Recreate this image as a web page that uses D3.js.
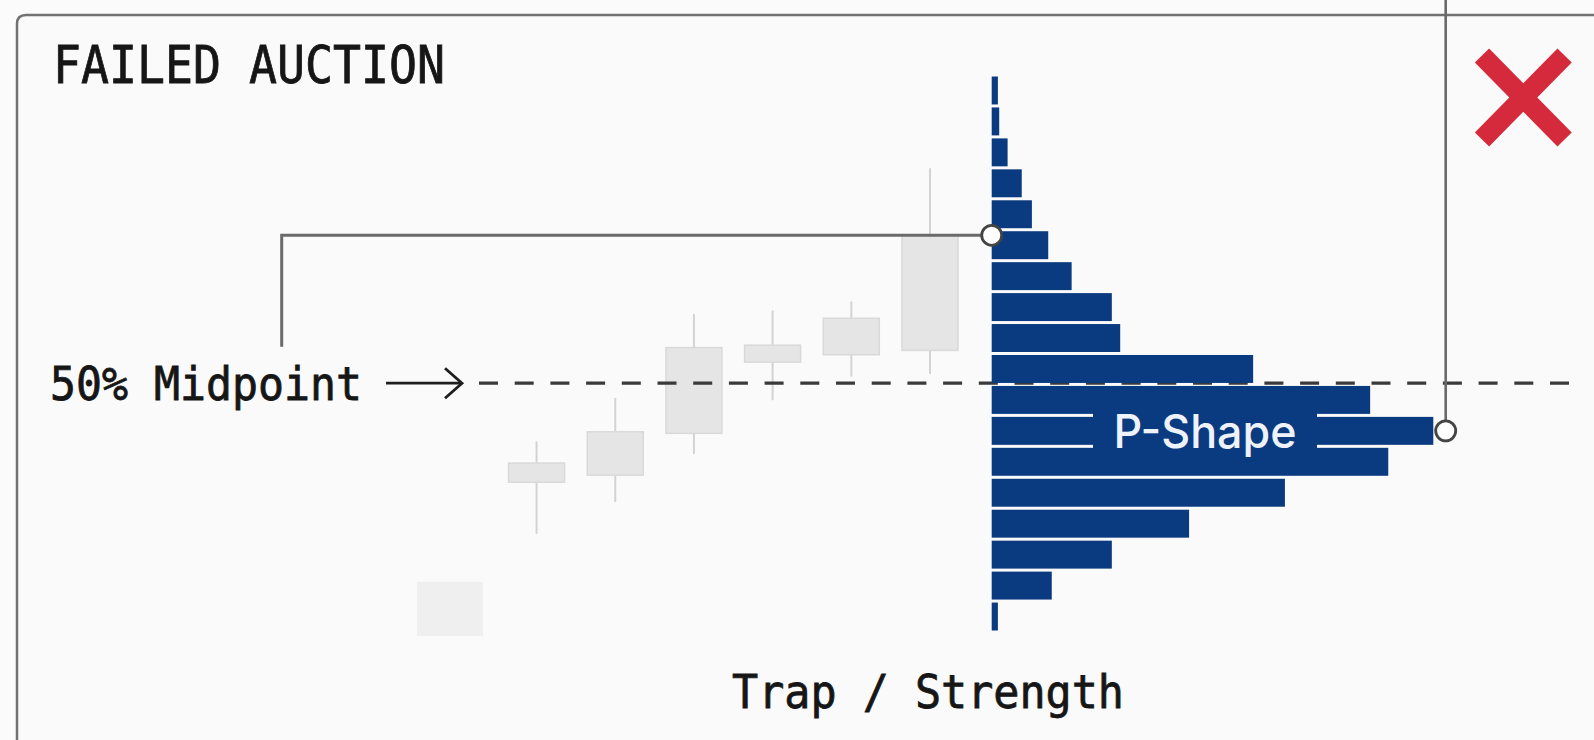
<!DOCTYPE html>
<html>
<head>
<meta charset="utf-8">
<script src="https://cdn.jsdelivr.net/npm/d3@7/dist/d3.min.js"></script>
<style>
  html, body { margin: 0; padding: 0; background: #fbfbfb; }
  svg { display: block; }
</style>
</head>
<body>
<svg id="chart" width="1594" height="740"></svg>
<script>
// ---------- data ----------
const title = "FAILED AUCTION";
const midLabel = "50% Midpoint";
const bottomLabel = "Trap / Strength";
const shapeLabel = "P-Shape";

// volume profile: price levels (top to bottom) and volume at each level
const priceLevels = [117, 116, 115, 114, 113, 112, 111, 110, 109, 108, 107, 106, 105, 104, 103, 102, 101, 100];
const levelVolume = [14, 17, 36, 68, 91, 128, 181, 272, 291, 592, 857, 1000, 898, 664, 447, 272, 136, 14];

// candles (time, open, close, high, low)
const candleTime  = [0, 1.1, 2.1, 3.1, 4.1, 5.1, 6.1];
const candleOpen  = [101.62, 104.84, 105.07, 106.42, 108.72, 108.96, 109.10];
const candleClose = [99.87, 105.46, 106.47, 109.19, 109.27, 110.14, 112.82];
const candleHigh  = [101.62, 106.16, 107.56, 110.28, 110.39, 110.68, 114.99];
const candleLow   = [99.87, 103.17, 104.20, 105.75, 107.49, 108.25, 108.34];

const midpointPrice = 108.04;

// ---------- scales ----------
const svg = d3.select("#chart");
const yPrice = d3.scaleLinear().domain([100, 118]).range([632, 75]);
const xVol = d3.scaleLinear().domain([0, 1000]).range([991.7, 1433.3]);
const xTime = d3.scaleLinear().domain([0, 6.1]).range([450, 930]);

const navy = "#0a3a80";
const mono = "'DejaVu Sans Mono', 'Liberation Mono', monospace";
const ink = "#161616";

// panel
svg.append("rect").attr("x", 0).attr("y", 0).attr("width", 1594).attr("height", 740).attr("fill", "#fbfbfb");
svg.append("path")
  .attr("d", "M17,760 V24 Q17,15 26,15 H1600 V760 Z")
  .attr("fill", "#fafafa")
  .attr("stroke", "#727272")
  .attr("stroke-width", 2.5);

// candles
const candles = candleTime.map((t, i) => ({
  t, o: candleOpen[i], c: candleClose[i], h: candleHigh[i], l: candleLow[i], first: i === 0
}));
const cg = svg.append("g");
cg.selectAll("line.wick").data(candles.filter(d => !d.first)).join("line")
  .attr("x1", d => xTime(d.t)).attr("x2", d => xTime(d.t))
  .attr("y1", d => yPrice(d.h)).attr("y2", d => yPrice(d.l))
  .attr("stroke", "#d3d3d3").attr("stroke-width", 2);
cg.selectAll("rect.body").data(candles).join("rect")
  .attr("x", d => xTime(d.t) - (d.first ? 33 : 28))
  .attr("width", d => d.first ? 66 : 56)
  .attr("y", d => yPrice(Math.max(d.o, d.c)))
  .attr("height", d => Math.abs(yPrice(d.o) - yPrice(d.c)))
  .attr("fill", d => d.first ? "#efefef" : "#e5e5e5")
  .attr("stroke", d => d.first ? "none" : "#d9d9d9")
  .attr("stroke-width", 1.5);

// connector from last candle close to label column
const lastC = candles[candles.length - 1];
const connY = yPrice(lastC.c);
svg.append("path")
  .attr("d", `M${xVol(0)},${connY} H281.7 V346.7`)
  .attr("fill", "none").attr("stroke", "#6a6a6a").attr("stroke-width", 3);

// dashed midpoint line
const midY = yPrice(midpointPrice);
svg.append("line")
  .attr("x1", 479).attr("x2", 1571).attr("y1", midY).attr("y2", midY)
  .attr("stroke", "#3a3a3a").attr("stroke-width", 3.2)
  .attr("stroke-dasharray", "19,16.7");

// arrow
svg.append("line").attr("x1", 386).attr("x2", 461).attr("y1", midY).attr("y2", midY)
  .attr("stroke", "#1e1e1e").attr("stroke-width", 2.8);
svg.append("path")
  .attr("d", `M445,${midY - 15} L462,${midY} L445,${midY + 15}`)
  .attr("fill", "none").attr("stroke", "#1e1e1e").attr("stroke-width", 2.8);

// volume profile bars
const profile = priceLevels.map((p, i) => ({ p, v: levelVolume[i] }));
svg.append("g").selectAll("rect").data(profile).join("rect")
  .attr("x", xVol(0))
  .attr("y", d => yPrice(d.p + 1) + 1.5)
  .attr("width", d => xVol(d.v) - xVol(0))
  .attr("height", d => yPrice(d.p) - yPrice(d.p + 1) - 3)
  .attr("fill", navy);

// P-Shape label
const poc = profile.reduce((a, b) => (b.v > a.v ? b : a));
const pocY = yPrice(poc.p + 0.5);
svg.append("rect")
  .attr("x", 1093).attr("y", pocY - 30).attr("width", 224).attr("height", 60)
  .attr("fill", navy);
svg.append("text")
  .attr("x", 1113.5).attr("y", pocY + 17.4)
  .attr("font-family", "Inter, 'Noto Sans', sans-serif")
  .attr("font-size", 46).attr("font-weight", 500)
  .attr("textLength", 183).attr("lengthAdjust", "spacingAndGlyphs")
  .attr("fill", "#eef2fa")
  .text(shapeLabel);

// connector from POC to top
const pocX = xVol(poc.v) + 12.4;
svg.append("line")
  .attr("x1", pocX).attr("x2", pocX).attr("y1", 0).attr("y2", pocY - 10)
  .attr("stroke", "#6a6a6a").attr("stroke-width", 2.6);

// circles
svg.append("circle").attr("cx", xVol(0)).attr("cy", connY).attr("r", 10)
  .attr("fill", "#ffffff").attr("stroke", "#444444").attr("stroke-width", 2.8);
svg.append("circle").attr("cx", pocX).attr("cy", pocY).attr("r", 10)
  .attr("fill", "#ffffff").attr("stroke", "#444444").attr("stroke-width", 2.8);

// red X
const xg = svg.append("g").attr("stroke", "#d42a3b").attr("stroke-width", 20);
xg.append("line").attr("x1", 1482).attr("y1", 55.5).attr("x2", 1564.6).attr("y2", 139.6);
xg.append("line").attr("x1", 1564.6).attr("y1", 55.5).attr("x2", 1482).attr("y2", 139.6);

// texts
function monoText(x, y, size, len, str, anchor) {
  svg.append("text").attr("x", x).attr("y", y)
    .attr("text-anchor", anchor || "start")
    .attr("font-family", mono).attr("font-size", size)
    .attr("fill", ink).attr("stroke", ink).attr("stroke-width", 0.8)
    .attr("textLength", len).attr("lengthAdjust", "spacingAndGlyphs")
    .text(str);
}
monoText(53, 83.3, 51, 392, title);
monoText(50, midY + 16.7, 46, 312, midLabel);
monoText(732, 708.3, 46, 392, bottomLabel);
</script>
</body>
</html>
